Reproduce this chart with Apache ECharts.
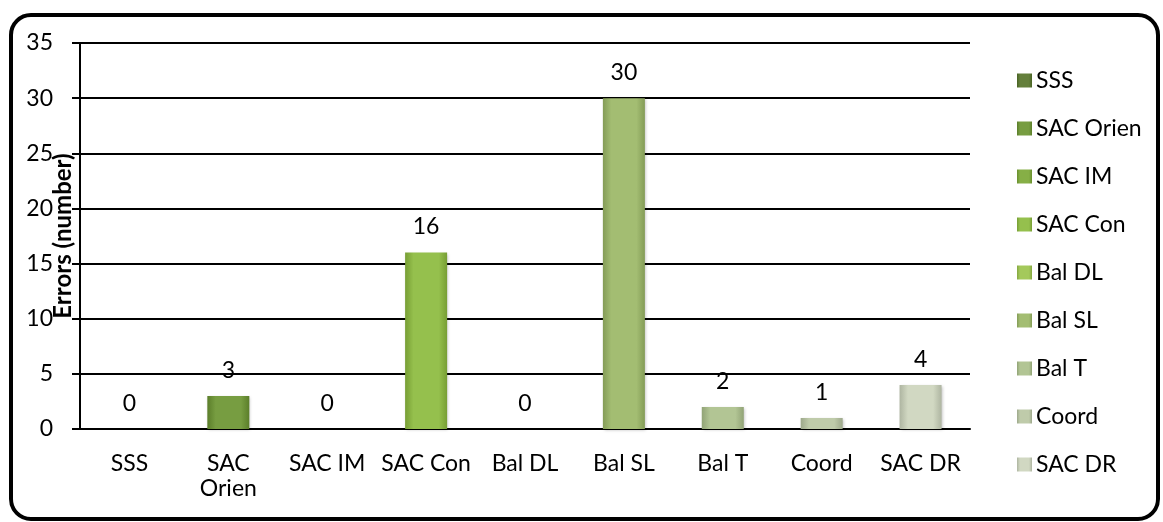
<!DOCTYPE html>
<html>
<head>
<meta charset="utf-8">
<script src="https://cdn.jsdelivr.net/npm/echarts@6/dist/echarts.min.js"></script>
<style>
html,body{margin:0;padding:0;background:#fff;}
#frame{position:absolute;left:9px;top:13px;width:1151px;height:508px;box-sizing:border-box;border:4px solid #000;border-radius:22px;}
#chart{position:absolute;left:0;top:0;width:1163px;height:522px;}
</style>
</head>
<body>
<div id="frame"></div>
<div id="chart"></div>
<script>
const categories = ['SSS','SAC Orien','SAC IM','SAC Con','Bal DL','Bal SL','Bal T','Coord','SAC DR'];
const values = [0,3,0,16,0,30,2,1,4];
const yTicks = [0,5,10,15,20,25,30,35];
const colors = ['#56742a','#6b9431','#7ca836','#8cba3d','#9cc44d','#9bb766','#abc08b','#b9c6a3','#cdd5bd'];

function shade(hex, f){
  const n = parseInt(hex.slice(1),16);
  let r=(n>>16)&255,g=(n>>8)&255,b=n&255;
  if(f>0){r=r+(255-r)*f;g=g+(255-g)*f;b=b+(255-b)*f;}
  else{r=r*(1+f);g=g*(1+f);b=b*(1+f);}
  return 'rgb('+Math.round(r)+','+Math.round(g)+','+Math.round(b)+')';
}

const FS = 23;
const series = categories.map((name,i)=>({
  name: name,
  type: 'bar',
  stack: 'all',
  barWidth: 42,
  data: categories.map((c,j)=> j===i ? values[i] : '-'),
  itemStyle: {
    color: new echarts.graphic.LinearGradient(0,0,1,0,[
      {offset:0,color:shade(colors[i],-0.15)},
      {offset:0.2,color:shade(colors[i],0.08)},
      {offset:0.8,color:shade(colors[i],0.08)},
      {offset:1,color:shade(colors[i],-0.15)}
    ]),
    shadowColor:'rgba(0,0,0,0.25)',shadowBlur:3,shadowOffsetX:1,shadowOffsetY:1
  },
  label: {show:true,position:'top',distance:14,color:'#000',fontFamily:'Lato',fontSize:FS},
  emphasis:{disabled:true}
}));

const chart = echarts.init(document.getElementById('chart'));
chart.setOption({
  animation:false,
  color: colors,
  textStyle:{fontFamily:'Lato'},
  grid:{left:80,right:193,top:43,bottom:93,containLabel:false,outerBoundsMode:'none'},
  legend:{
    orient:'vertical',left:1012,top:64,
    itemWidth:15,itemHeight:14,itemGap:25,
    icon:'rect',
    textStyle:{fontFamily:'Lato',fontSize:FS,color:'#000',padding:[0,0,0,-1]},
    data: categories
  },
  xAxis:{
    type:'category',data:categories,
    axisLine:{lineStyle:{color:'#000',width:2}},
    axisTick:{show:false},
    axisLabel:{color:'#000',fontFamily:'Lato',fontSize:FS,margin:22,lineHeight:25,interval:0,
      formatter:v=> v==='SAC Orien' ? 'SAC\nOrien' : v}
  },
  yAxis:{
    type:'value',min:0,max:35,interval:5,
    name:'Errors (number)',nameLocation:'middle',nameGap:5,nameMoveOverlap:false,
    nameTextStyle:{fontFamily:'Lato',fontSize:24,fontWeight:'bold',color:'#000'},
    axisLine:{show:true,lineStyle:{color:'#000',width:2}},
    axisTick:{show:true,length:8,lineStyle:{color:'#000',width:2}},
    axisLabel:{color:'#000',fontFamily:'Lato',fontSize:FS,margin:27,
      formatter:v=> yTicks.includes(v) ? String(v) : ''},
    splitLine:{lineStyle:{color:'#000',width:2}}
  },
  series: series
});
</script>
</body>
</html>
